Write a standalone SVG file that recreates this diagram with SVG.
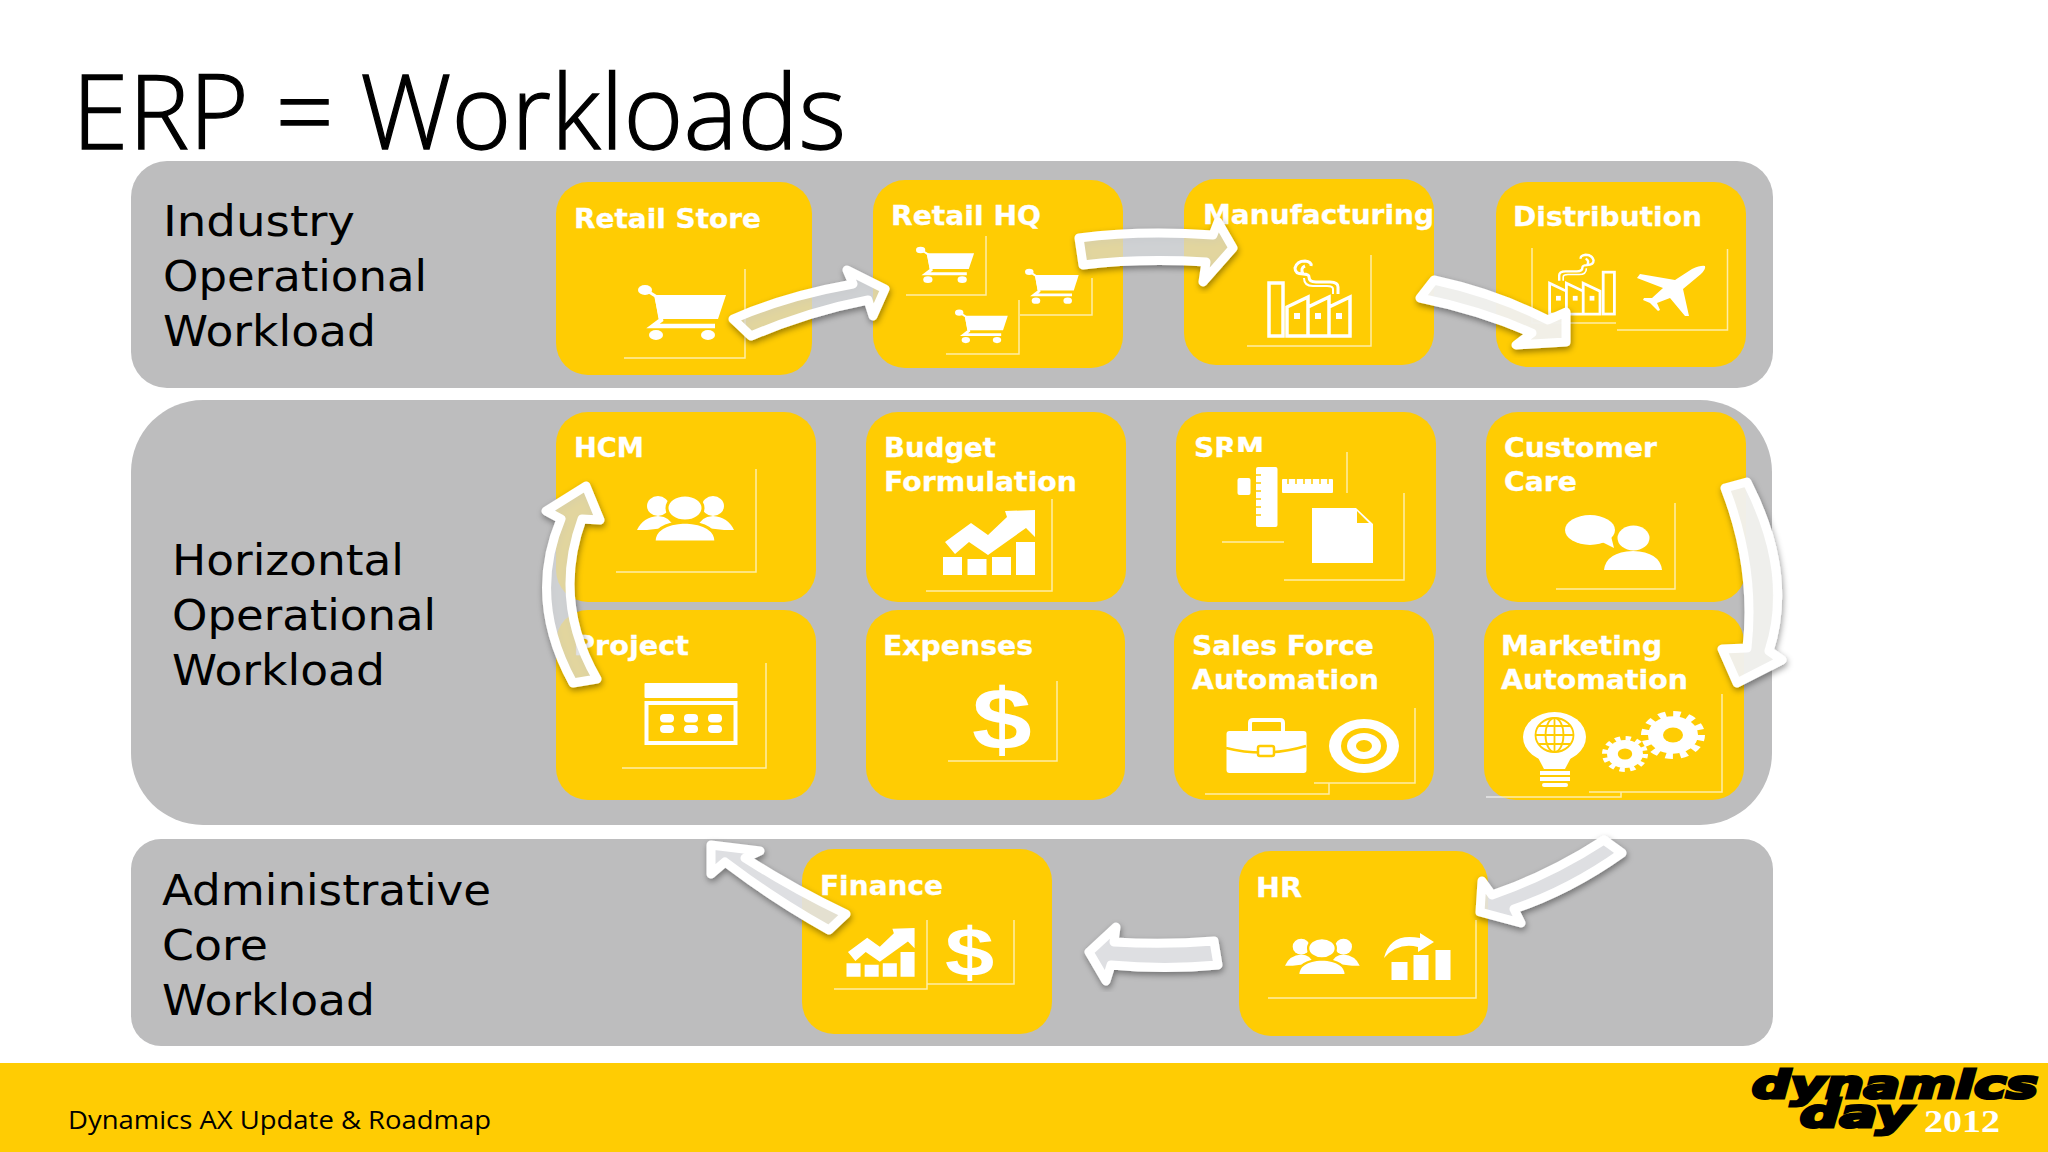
<svg xmlns="http://www.w3.org/2000/svg" width="2048" height="1152" viewBox="0 0 2048 1152">
<style>
.title{font-family:"Open Sans","Liberation Sans",sans-serif;font-weight:300;font-size:103px;fill:#000;stroke:#000;stroke-width:1.300}
.band{fill:#bdbdbe}
.sec{font-family:"DejaVu Sans",sans-serif;font-size:43px;fill:#000}
.card{fill:#ffcc03}
.lbl{font-family:"DejaVu Sans",sans-serif;font-weight:700;font-size:26.500px;fill:#fff;stroke:#fff;stroke-width:.3}
.crop{fill:none;stroke:#fff;stroke-opacity:.65;stroke-width:1.5}
.w{fill:#fff}
.y{fill:#ffcc03}
.ol{fill:none;stroke:#fff}
.dollar{font-family:"Liberation Sans",sans-serif;font-weight:700;fill:#fff}
.arrow{stroke:#fff;stroke-width:9;stroke-linejoin:round;filter:url(#shadow)}
.a1{fill:rgb(228,230,234);fill-opacity:.62}
.a2{fill:rgb(232,233,236);fill-opacity:.85}
.a3{fill:#f2f2f0;fill-opacity:.95}
.foot{font-family:"Open Sans","Liberation Sans",sans-serif;font-size:26px;fill:#000}
.logo{font-family:"DejaVu Sans",sans-serif;font-weight:700;font-style:oblique;fill:#000;stroke:#000;stroke-width:3}
.yr{font-family:"Liberation Serif",serif;font-weight:700;font-size:31px;fill:#fff}
</style>
<defs>
<filter id="shadow" x="-20%" y="-20%" width="140%" height="140%"><feDropShadow dx="1" dy="3" stdDeviation="3" flood-color="#000" flood-opacity=".4"/></filter>
<g id="cart">
<ellipse cx="7" cy="6" rx="7" ry="5" class="w"/>
<path d="M11 8L19 13" class="ol" stroke-width="3"/>
<path d="M16 11H88L80 35H21Z" class="w"/>
<path d="M19 13L23 36L15 42H77" class="ol" stroke-width="4.500"/>
<ellipse cx="18" cy="51" rx="7" ry="5" class="w"/>
<ellipse cx="70" cy="51" rx="7" ry="5" class="w"/>
</g>
<g id="factory">
<rect x="2" y="23" width="14" height="53" class="ol" stroke-width="3.5"/>
<path d="M20 76V47L41 37V47L62 37V47L83 37V76ZM41 47V76M62 47V76" class="ol" stroke-width="3.5"/>
<rect x="27" y="53" width="6" height="6" class="w"/><rect x="48" y="53" width="6" height="6" class="w"/><rect x="69" y="53" width="6" height="6" class="w"/>
<path d="M71 34V27Q71 22 63 22H49Q42 22 42 17Q42 14 36 14Q28 14 28 8Q30 1 38 1Q45 2 44 6M36 14Q33 8 38 6" class="ol" stroke-width="3"/>
<path d="M66 34V29Q66 26 60 26H46Q37 26 37 18" class="ol" stroke-width="2"/>
</g>
<g id="plane"><path d="M68 1Q69 4 64 9L46 24L52 51L48 51L33 33L20 38L23 45L21 46L13 38L6 35L7 33L15 33L26 23L0 13L3 9L38 15L55 4Q64 0 68 1Z" class="w"/></g>
<g id="people">
<ellipse cx="21" cy="11" rx="11" ry="10" class="w"/>
<ellipse cx="76" cy="11" rx="11" ry="10" class="w"/>
<path d="M0 35Q6 22 21 21Q34 22 36 32L10 35Z" class="w"/>
<path d="M97 35Q91 22 76 21Q63 22 61 32L87 35Z" class="w"/>
<ellipse cx="48" cy="13" rx="18" ry="13" class="w" stroke="#ffcc03" stroke-width="3"/>
<path d="M17 47Q17 29 48 27Q79 29 79 47Z" class="w" stroke="#ffcc03" stroke-width="3"/>
</g>
<g id="chart">
<path d="M2 32L28 13L45 25L64 7L62 1L92 0V27L83 18L45 45L26 32L12 44Z" class="w"/>
<rect x="0" y="47" width="19" height="18" class="w"/><rect x="24.500" y="49" width="19" height="16" class="w"/><rect x="49" y="47" width="19" height="18" class="w"/><rect x="73" y="32" width="19" height="33" class="w"/>
</g>
<g id="gear">
<circle r="25" class="w"/>
<circle r="28" class="ol" stroke-width="8" stroke-dasharray="7.330 7.330"/>
<circle r="10" class="y"/>
</g>
</defs>

<rect width="2048" height="1152" fill="#fff"/>
<text class="title" x="72" y="149" textLength="774" lengthAdjust="spacingAndGlyphs">ERP = Workloads</text>

<g id="band-industry">
<rect class="band" x="131" y="161" width="1642" height="227" rx="36"/>
<text class="sec" x="163" y="236" textLength="192" lengthAdjust="spacingAndGlyphs">Industry</text>
<text class="sec" x="163" y="291" textLength="264" lengthAdjust="spacingAndGlyphs">Operational</text>
<text class="sec" x="163" y="346" textLength="213" lengthAdjust="spacingAndGlyphs">Workload</text>
</g>
<g id="band-horizontal">
<rect class="band" x="131" y="400" width="1641" height="425" rx="72"/>
<text class="sec" x="172" y="575" textLength="232" lengthAdjust="spacingAndGlyphs">Horizontal</text>
<text class="sec" x="172" y="630" textLength="264" lengthAdjust="spacingAndGlyphs">Operational</text>
<text class="sec" x="172" y="685" textLength="213" lengthAdjust="spacingAndGlyphs">Workload</text>
</g>
<g id="band-admin">
<rect class="band" x="131" y="839" width="1642" height="207" rx="30"/>
<text class="sec" x="162" y="905" textLength="329" lengthAdjust="spacingAndGlyphs">Administrative</text>
<text class="sec" x="162" y="960" textLength="106" lengthAdjust="spacingAndGlyphs">Core</text>
<text class="sec" x="162" y="1015" textLength="213" lengthAdjust="spacingAndGlyphs">Workload</text>
</g>

<g id="node-retail-store">
<rect class="card" x="556" y="182" width="256" height="193" rx="32"/>
<text class="lbl" x="574" y="228" textLength="187" lengthAdjust="spacingAndGlyphs">Retail Store</text>
<path class="crop" d="M745 269V358H624"/>
<use href="#cart" transform="translate(638,284)"/>
</g>
<g id="node-retail-hq">
<rect class="card" x="873" y="180" width="250" height="188" rx="32"/>
<text class="lbl" x="891" y="225" textLength="150" lengthAdjust="spacingAndGlyphs">Retail HQ</text>
<path class="crop" d="M986 236V295H906M1092 278V315H1020M1019 300V354H946"/>
<use href="#cart" transform="translate(916,246) scale(.66,.66)"/>
<use href="#cart" transform="translate(1025,268) scale(.61,.64)"/>
<use href="#cart" transform="translate(955,309) scale(.6,.61)"/>
</g>
<g id="node-manufacturing">
<rect class="card" x="1184" y="179" width="250" height="186" rx="32"/>
<text class="lbl" x="1203" y="224" textLength="231" lengthAdjust="spacingAndGlyphs">Manufacturing</text>
<path class="crop" d="M1371 255V346H1247"/>
<use href="#factory" transform="translate(1267,260)"/>
</g>
<g id="node-distribution">
<rect class="card" x="1496" y="182" width="250" height="185" rx="32"/>
<text class="lbl" x="1513" y="226" textLength="189" lengthAdjust="spacingAndGlyphs">Distribution</text>
<path class="crop" d="M1532 248V323H1616M1727.500 249V330H1617"/>
<use href="#factory" transform="translate(1616,254) scale(-.8,.79)"/>
<use href="#plane" transform="translate(1637,265)"/>
</g>

<g id="node-hcm">
<rect class="card" x="556" y="412" width="260" height="190" rx="32"/>
<text class="lbl" x="574" y="457" textLength="70" lengthAdjust="spacingAndGlyphs">HCM</text>
<path class="crop" d="M756 469V572H616"/>
<use href="#people" transform="translate(637,495)"/>
</g>
<g id="node-budget">
<rect class="card" x="866" y="412" width="260" height="190" rx="32"/>
<text class="lbl" x="884" y="457" textLength="112" lengthAdjust="spacingAndGlyphs">Budget</text>
<text class="lbl" x="884" y="491" textLength="193" lengthAdjust="spacingAndGlyphs">Formulation</text>
<path class="crop" d="M1052 499V591H926"/>
<use href="#chart" transform="translate(943,510)"/>
</g>
<g id="node-srm">
<rect class="card" x="1176" y="412" width="260" height="190" rx="32"/>
<text class="lbl" x="1194" y="457" textLength="70" lengthAdjust="spacingAndGlyphs">SRM</text>
<rect class="card" x="1226" y="452" width="121" height="91"/>
<path class="crop" d="M1347 452V493M1222 542H1284M1404 493V580H1284"/>
<rect class="w" x="1256" y="467" width="21.500" height="60" rx="2"/>
<path d="M1256 475h5M1256 483h5M1256 491h5M1256 499h5M1256 507h5M1256 515h5" stroke="#ffcc03" stroke-width="1.500"/>
<rect class="w" x="1282" y="479" width="51" height="14" rx="1"/>
<path d="M1288 479v5M1296 479v5M1304 479v5M1312 479v5M1320 479v5M1328 479v5" stroke="#ffcc03" stroke-width="1.500"/>
<rect class="w" x="1237.500" y="478" width="13" height="17" rx="2"/>
<path class="w" d="M1312 508H1356L1373 524V563H1312Z"/>
<path class="y" d="M1357 511L1369 523H1357Z"/>
</g>
<g id="node-customer-care">
<rect class="card" x="1486" y="412" width="260" height="190" rx="32"/>
<text class="lbl" x="1504" y="457" textLength="153" lengthAdjust="spacingAndGlyphs">Customer</text>
<text class="lbl" x="1504" y="491" textLength="73" lengthAdjust="spacingAndGlyphs">Care</text>
<path class="crop" d="M1675 503V589H1556"/>
<ellipse class="w" cx="1590" cy="530" rx="25" ry="15"/>
<path class="w" d="M1598 540L1614 548L1610 532Z"/>
<ellipse class="w" cx="1633.500" cy="538" rx="16" ry="12.500"/>
<path class="w" d="M1604 570Q1606 552 1633 551Q1660 552 1662 570Z"/>
</g>

<g id="node-project">
<rect class="card" x="556" y="610" width="260" height="190" rx="32"/>
<text class="lbl" x="574" y="655" textLength="115" lengthAdjust="spacingAndGlyphs">Project</text>
<path class="crop" d="M766 663V768H622"/>
<rect class="w" x="644.500" y="683" width="93" height="15" rx="1"/>
<rect class="ol" x="646.500" y="703" width="89" height="40" stroke-width="4"/>
<g class="w"><rect x="660" y="714" width="14" height="8.500" rx="4"/><rect x="684" y="714" width="14" height="8.500" rx="4"/><rect x="708" y="714" width="14" height="8.500" rx="4"/><rect x="660" y="725" width="14" height="8" rx="4"/><rect x="684" y="725" width="14" height="8" rx="4"/><rect x="708" y="725" width="14" height="8" rx="4"/></g>
</g>
<g id="node-expenses">
<rect class="card" x="866" y="610" width="259" height="190" rx="32"/>
<text class="lbl" x="883" y="655" textLength="150" lengthAdjust="spacingAndGlyphs">Expenses</text>
<path class="crop" d="M1057 681V761H948"/>
<text class="dollar" font-size="88" transform="translate(972,750) scale(1.22,1)">$</text>
</g>
<g id="node-sales-force">
<rect class="card" x="1174" y="610" width="260" height="190" rx="32"/>
<text class="lbl" x="1192" y="655" textLength="182" lengthAdjust="spacingAndGlyphs">Sales Force</text>
<text class="lbl" x="1192" y="689" textLength="187" lengthAdjust="spacingAndGlyphs">Automation</text>
<path class="crop" d="M1329 783V794H1205M1415 708V783H1314"/>
<path class="ol" d="M1250 732V723Q1250 720 1253 720H1280Q1283 720 1283 723V732" stroke-width="4"/>
<rect class="w" x="1226.500" y="731" width="80" height="42" rx="3"/>
<path d="M1226 748Q1266 758 1306 746" fill="none" stroke="#ffcc03" stroke-width="2.500"/>
<rect class="w" x="1258" y="746" width="16" height="10" rx="2" stroke="#ffcc03" stroke-width="2.500"/>
<ellipse class="w" cx="1364" cy="746" rx="35" ry="27"/>
<ellipse class="y" cx="1364" cy="746" rx="23" ry="18"/>
<ellipse class="w" cx="1364" cy="746" rx="17" ry="13"/>
<ellipse class="y" cx="1364" cy="746" rx="8" ry="6"/>
</g>
<g id="node-marketing">
<rect class="card" x="1484" y="610" width="260" height="190" rx="32"/>
<text class="lbl" x="1501" y="655" textLength="161" lengthAdjust="spacingAndGlyphs">Marketing</text>
<text class="lbl" x="1501" y="689" textLength="187" lengthAdjust="spacingAndGlyphs">Automation</text>
<path class="crop" d="M1486 797H1621V792M1722 694V792H1589"/>
<ellipse class="w" cx="1554.500" cy="737" rx="31.500" ry="25"/>
<path class="w" d="M1535 752L1544 769H1565L1574 752Z"/>
<g class="w"><rect x="1540" y="771" width="30" height="4"/><rect x="1540" y="777" width="30" height="4"/><rect x="1542" y="783" width="26" height="4" rx="2"/></g>
<g fill="none" stroke="#ffcc03" stroke-width="1.800"><ellipse cx="1554.500" cy="735" rx="19" ry="17"/><ellipse cx="1554.500" cy="735" rx="9" ry="17"/><path d="M1554.500 718V752M1536 735H1573M1539 726H1570M1539 744H1570"/></g>
<use href="#gear" transform="translate(1673,735) scale(1,.75)"/>
<use href="#gear" transform="translate(1625,754) scale(.72,.56)"/>
</g>

<g id="node-finance">
<rect class="card" x="802" y="849" width="250" height="185" rx="32"/>
<text class="lbl" x="820" y="895" textLength="123" lengthAdjust="spacingAndGlyphs">Finance</text>
<path class="crop" d="M927 920V989H834M1014 920V984H927"/>
<use href="#chart" transform="translate(846.500,928) scale(.74,.75)"/>
<text class="dollar" font-size="68" transform="translate(945,976) scale(1.3,1)">$</text>
</g>
<g id="node-hr">
<rect class="card" x="1239" y="851" width="249" height="185" rx="32"/>
<text class="lbl" x="1256" y="897" textLength="46" lengthAdjust="spacingAndGlyphs">HR</text>
<path class="crop" d="M1476 920V998H1268"/>
<use href="#people" transform="translate(1285,938) scale(.77,.79)"/>
<rect class="w" x="1391.500" y="962" width="16" height="18"/><rect class="w" x="1413.500" y="955" width="15" height="25"/><rect class="w" x="1435.500" y="950" width="15" height="30"/>
<path class="w" d="M1384 958Q1390 932 1420 938L1420 933L1434 942L1418 952L1418 947Q1398 942 1384 958Z"/>
</g>

<g id="connectors">
<path class="arrow a1" d="M733 319Q785 296 853 284L847 270L885 289L873 316L868 300Q810 311 751 336Z"/>
<path class="arrow a1" d="M1079 238Q1140 230 1213 235L1218 222L1233 248L1203 282L1206 262Q1140 258 1083 265Z"/>
<path class="arrow a3" d="M1434 280Q1495 293 1548 320L1566 312L1566 342L1516 345L1532 333Q1480 310 1420 298Z"/>
<path class="arrow a3" d="M1725 488L1747 482Q1794 574 1769 651L1782 660L1737 683L1722 649L1747 648Q1756 568 1725 488Z"/>
<path class="arrow a2" d="M1604 840L1622 853Q1570 890 1514 909L1521 923L1480 912L1482 881L1492 895Q1550 875 1604 840Z"/>
<path class="arrow a2" d="M1214 941L1218 965Q1165 970 1111 965L1106 981L1089 952L1116 927L1114 942Q1165 945 1214 941Z"/>
<path class="arrow a2" d="M846 914L829 930Q775 900 725 862L711 874L711 845L760 851L745 858Q795 890 846 914Z"/>
<path class="arrow a1" d="M573 683Q527 599 561 519L546 511L586 486L600 520L582 519Q552 601 597 679Z"/>
</g>

<g id="footer">
<rect x="0" y="1063" width="2048" height="89" fill="#ffcc03"/>
<text class="foot" x="68" y="1129" textLength="423" lengthAdjust="spacingAndGlyphs">Dynamics AX Update &amp; Roadmap</text>
<text class="logo" x="1752" y="1098" font-size="37" textLength="286" lengthAdjust="spacingAndGlyphs">dynamics</text>
<text class="logo" x="1800" y="1127" font-size="37" textLength="112" lengthAdjust="spacingAndGlyphs">day</text>
<text class="yr" x="1924" y="1132" textLength="76" lengthAdjust="spacingAndGlyphs">2012</text>
</g>
</svg>
